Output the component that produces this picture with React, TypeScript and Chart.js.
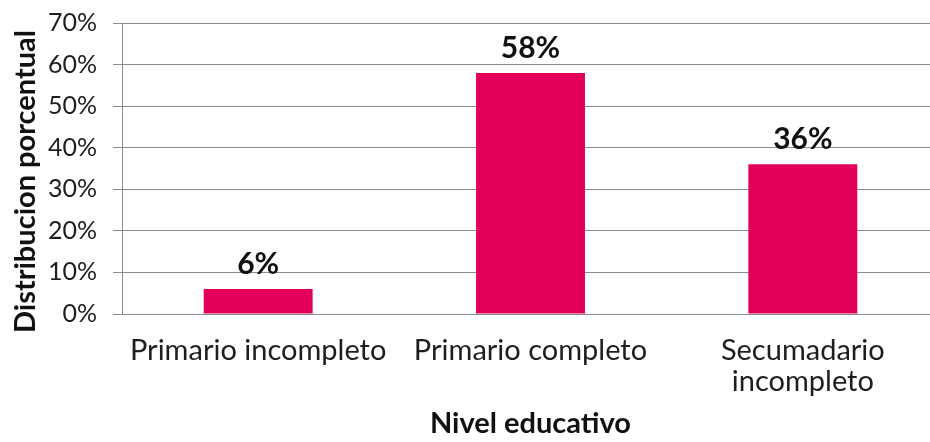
import React, { useEffect, useRef } from "react";
import { Chart, registerables } from "chart.js";

Chart.register(...registerables);

const categories: (string | string[])[] = [
  "Primario incompleto",
  "Primario completo",
  ["Secumadario", "incompleto"],
];
const values: number[] = [6, 58, 36];
const yTickValues: number[] = [0, 10, 20, 30, 40, 50, 60, 70];
const yTitle = "Distribucion porcentual";
const xTitle = "Nivel educativo";

const FONT = "Lato, 'Open Sans', 'DejaVu Sans', sans-serif";
const BAR_COLOR = "#E3005B";
const GRID_COLOR = "#8c8c8c";
const TEXT_COLOR = "#1e1e1e";

const dataLabelPlugin = {
  id: "dataLabels",
  afterDatasetsDraw(chart: any) {
    const { ctx } = chart;
    const meta = chart.getDatasetMeta(0);
    ctx.save();
    ctx.font = `bold 30px ${FONT}`;
    ctx.fillStyle = "#111";
    ctx.textAlign = "center";
    ctx.textBaseline = "alphabetic";
    meta.data.forEach((bar: any, i: number) => {
      const v = chart.data.datasets[0].data[i];
      ctx.fillText(`${v}%`, bar.x, bar.y - 15);
    });
    ctx.restore();
  },
};

// Y-axis title drawn manually (the reference centres it lower than the plot middle)
const yTitlePlugin = {
  id: "yTitle",
  afterDraw(chart: any) {
    const { ctx, chartArea } = chart;
    const cy = (chartArea.top + chartArea.bottom) / 2 + 13;
    ctx.save();
    ctx.translate(35, cy);
    ctx.rotate(-Math.PI / 2);
    ctx.font = `bold 29px ${FONT}`;
    ctx.fillStyle = "#111";
    ctx.textAlign = "center";
    ctx.textBaseline = "alphabetic";
    ctx.fillText(yTitle, 0, 0);
    ctx.restore();
  },
};

export default function App() {
  const ref = useRef<HTMLCanvasElement | null>(null);

  useEffect(() => {
    document.body.style.margin = "0";
    document.body.style.overflow = "hidden";
    if (!ref.current) return;
    const chart = new Chart(ref.current, {
      type: "bar",
      data: {
        labels: categories,
        datasets: [
          {
            data: values,
            backgroundColor: BAR_COLOR,
            borderWidth: 0,
            barPercentage: 0.4,
            categoryPercentage: 1,
          },
        ],
      },
      options: {
        responsive: false,
        animation: false,
        layout: { padding: { top: 23, right: 0, bottom: 0, left: 0 } },
        plugins: {
          legend: { display: false },
          tooltip: { enabled: false },
        },
        scales: {
          x: {
            grid: { display: false },
            border: { display: true, color: GRID_COLOR, width: 1 },
            ticks: {
              color: TEXT_COLOR,
              font: { family: FONT, size: 29, lineHeight: 1.07 },
              padding: 13,
              maxRotation: 0,
              autoSkip: false,
            },
            title: {
              display: true,
              text: xTitle,
              color: "#111",
              font: { family: FONT, size: 29, weight: "bold", lineHeight: 1.2 },
              padding: { top: 0, bottom: 1 },
            },
            afterFit(scale: any) {
              scale.height = 128;
              scale.paddingLeft = 0;
              scale.paddingRight = 0;
            },
          },
          y: {
            min: 0,
            max: 70,
            afterBuildTicks(scale: any) {
              scale.ticks = yTickValues.map((v) => ({ value: v }));
            },
            grid: {
              color: GRID_COLOR,
              lineWidth: 1,
              drawTicks: true,
              tickLength: 9,
            },
            border: { display: true, color: GRID_COLOR, width: 1 },
            ticks: {
              color: TEXT_COLOR,
              font: { family: FONT, size: 25 },
              padding: 16,
              callback: (v: any) => `${v}%`,
            },
            title: { display: false, text: yTitle },
            afterFit(scale: any) {
              scale.width = 122;
              scale.paddingTop = 0;
              scale.paddingBottom = 0;
            },
          },
        },
      },
      plugins: [dataLabelPlugin, yTitlePlugin],
    });
    return () => chart.destroy();
  }, []);

  return (
    <div style={{ width: 930, height: 442, overflow: "hidden" }}>
      <canvas
        ref={ref}
        width={939}
        height={442}
        style={{ display: "block", width: 939, height: 442 }}
      />
    </div>
  );
}
